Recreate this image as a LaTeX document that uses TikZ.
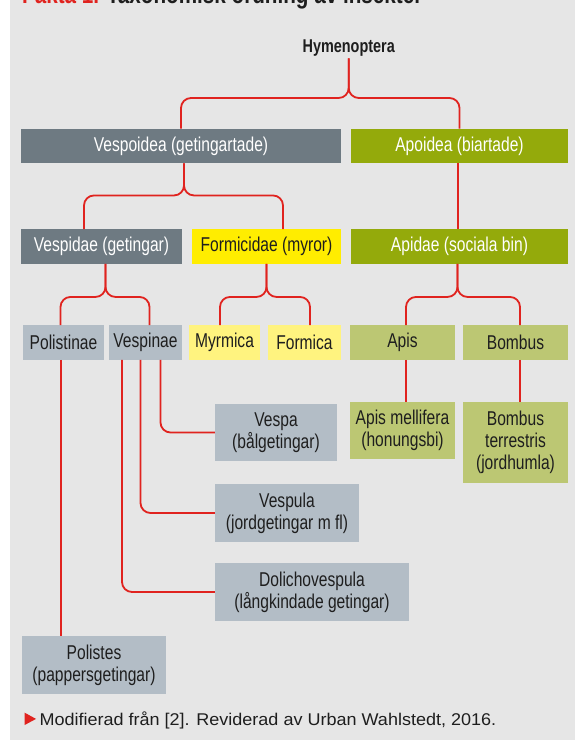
\documentclass[tikz,border=0pt]{standalone}
\usepackage{fontspec}
\setmainfont{Liberation Sans}
\newfontfamily\boxfont{Liberation Sans}[FakeStretch=0.78]
\newfontfamily\notefont{Liberation Sans}[FakeStretch=1.06]
\usepackage{tikz}
\usetikzlibrary{positioning}
\definecolor{panel}{HTML}{E6E6E6}
\definecolor{ink}{HTML}{1E1E1E}
\definecolor{linkred}{HTML}{E0231F}
\definecolor{grpgray}{HTML}{6E7A82}
\definecolor{beegreen}{HTML}{94AA0B}
\definecolor{antyellow}{HTML}{FFED00}
\definecolor{waspgray}{HTML}{B3BDC6}
\definecolor{antpale}{HTML}{FFF37F}
\definecolor{beepale}{HTML}{BCC773}

\begin{document}
\begin{tikzpicture}[x=1pt, y=-1pt, box/.style = {minimum height=34.5pt,
                        inner sep=0pt, align=center,
                        font=\boxfont\fontsize{20}{21.7}\selectfont},
                    grp/.style = {box, fill=grpgray, text=white},
                    bee/.style = {box, fill=beegreen, text=white},
                    ant/.style = {box, fill=antyellow, text=ink},
                    wasp/.style = {box, fill=waspgray, text=ink},
                    antsub/.style = {box, fill=antpale, text=ink},
                    beesub/.style = {box, fill=beepale, text=ink},
                    link/.style = {draw=linkred, line width=1.8pt,
                        rounded corners=10pt}]
        \useasboundingbox (0,0) rectangle (575,740);
        \fill[panel] (9.5,0) rectangle (575,740);

        \node[anchor=base west, inner sep=0pt,
              font=\bfseries\boxfont\fontsize{26.5}{28}\selectfont, text=ink]
              (title) at (22,3) {\textcolor{linkred}{Fakta 1.} Taxonomisk ordning av insekter};

        \node[inner sep=2pt, text=ink,
              font=\bfseries\boxfont\fontsize{18.5}{20}\selectfont] (hym) at (348.7,48) {Hymenoptera};

        \node[grp, minimum width=320pt] (vespoidea) at (181,146) {Vespoidea (getingartade)};
        \node[bee, minimum width=217pt] (apoidea) at (459.5,146) {Apoidea (biartade)};

        \node[grp, minimum width=161pt] (vespidae) at (101.5,246.5) {Vespidae (getingar)};
        \node[ant, minimum width=149pt] (formicidae) at (266.5,246.5) {Formicidae (myror)};
        \node[bee, minimum width=217pt] (apidae) at (459.5,246.5) {Apidae (sociala bin)};

        \node[wasp, minimum width=81pt] (polistinae) at (63.5,342.5) {Polistinae};
        \node[wasp, minimum width=73pt] (vespinae) at (145.5,342.5) {Vespinae};
        \node[antsub, minimum width=71pt] (myrmica) at (224.5,342.5) {Myrmica};
        \node[antsub, minimum width=73pt] (formica) at (304.5,342.5) {Formica};
        \node[beesub, minimum width=105pt] (apis) at (402.5,342.5) {Apis};
        \node[beesub, minimum width=105pt] (bombus) at (515.5,342.5) {Bombus};

        \node[wasp, minimum width=122pt, minimum height=57pt] (vespa) at (276,432.5) {Vespa\\(bålgetingar)};
        \node[beesub, minimum width=105pt, minimum height=57pt] (mellifera) at (402.5,430.5) {Apis mellifera\\(honungsbi)};
        \node[beesub, minimum width=105pt, minimum height=81pt] (terrestris) at (515.5,442.5) {Bombus\\terrestris\\(jordhumla)};
        \node[wasp, minimum width=144pt, minimum height=58pt] (vespula) at (287,513) {Vespula\\(jordgetingar m fl)};
        \node[wasp, minimum width=194pt, minimum height=58pt] (dolicho) at (312,592) {Dolichovespula\\(långkindade getingar)};
        \node[wasp, minimum width=144pt, minimum height=58pt] (polistes) at (94,665) {Polistes\\(pappersgetingar)};

        \draw[link] (hym.south) -- ++(0,39.5) -| (vespoidea.north);
        \draw[link] (hym.south) -- ++(0,39.5) -| (apoidea.north);
        \draw[link] ([xshift=3pt]vespoidea.south) -- ++(0,32) -| ([xshift=-17.5pt]vespidae.north);
        \draw[link] ([xshift=3pt]vespoidea.south) -- ++(0,32) -| ([xshift=16.5pt]formicidae.north);
        \draw[link] ([xshift=-1.5pt]apoidea.south) -- ([xshift=-1.5pt]apidae.north);

        \draw[link] ([xshift=4pt]vespidae.south) -- ++(0,33) -| ([xshift=-3pt]polistinae.north);
        \draw[link] ([xshift=4pt]vespidae.south) -- ++(0,33) -| ([xshift=4pt]vespinae.north);
        \draw[link] (formicidae.south) -- ++(0,33) -| ([xshift=-4.5pt]myrmica.north);
        \draw[link] (formicidae.south) -- ++(0,33) -| ([xshift=5.5pt]formica.north);
        \draw[link] ([xshift=-2pt]apidae.south) -- ++(0,33) -| ([xshift=3.5pt]apis.north);
        \draw[link] ([xshift=-2pt]apidae.south) -- ++(0,33) -| ([xshift=4.5pt]bombus.north);

        \draw[link] ([xshift=3.5pt]apis.south) -- ([xshift=3.5pt]mellifera.north);
        \draw[link] ([xshift=4.5pt]bombus.south) -- ([xshift=4.5pt]terrestris.north);
        \draw[link] ([xshift=-2.5pt]polistinae.south) -- ([xshift=-33pt]polistes.north);
        \draw[link] ([xshift=15pt]vespinae.south) |- (vespa.west);
        \draw[link] ([xshift=-5pt]vespinae.south) |- (vespula.west);
        \draw[link] ([xshift=-23.5pt]vespinae.south) |- (dolicho.west);

        \fill[linkred] (24.7,712.7) -- (36,718.9) -- (24.7,725) -- cycle;
        \node[anchor=base west, inner sep=0pt, text=ink,
              font=\notefont\fontsize{17}{20}\selectfont] (note) at (39.3,725.3)
              {Modifierad från [2]. Reviderad av Urban Wahlstedt, 2016.};
    \end{tikzpicture}
\end{document}
